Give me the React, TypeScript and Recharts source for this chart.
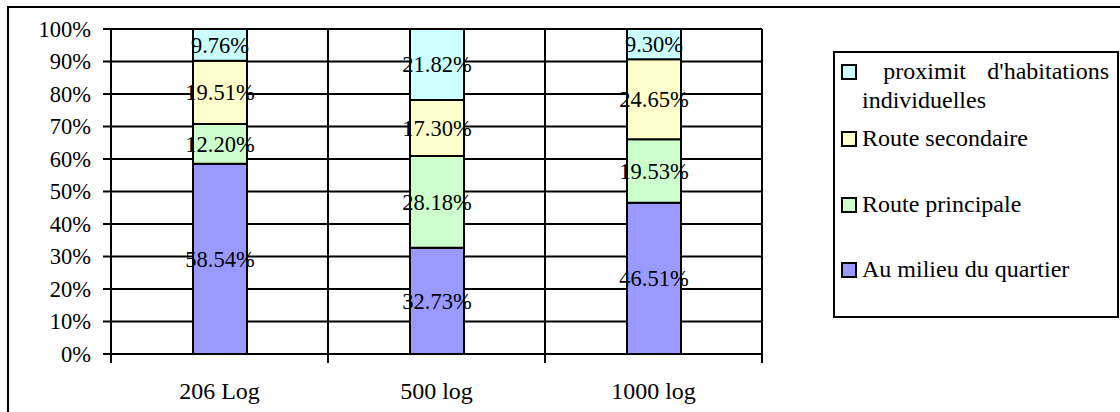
import React from "react";
import {
  BarChart,
  Bar,
  XAxis,
  YAxis,
  CartesianGrid,
  LabelList,
} from "recharts";

// Data (percent of each group)
const CATEGORIES = ["206 Log", "500 log", "1000 log"];
const AU_MILIEU = [58.54, 32.73, 46.51];
const ROUTE_PRINCIPALE = [12.2, 28.18, 19.53];
const ROUTE_SECONDAIRE = [19.51, 17.3, 24.65];
const PROXIMITE = [9.76, 21.82, 9.3];
const Y_TICKS = [0, 10, 20, 30, 40, 50, 60, 70, 80, 90, 100];

// Series, bottom of the stack first
const SERIES = [
  { key: "au", name: "Au milieu du quartier", values: AU_MILIEU },
  { key: "principale", name: "Route principale", values: ROUTE_PRINCIPALE },
  { key: "secondaire", name: "Route secondaire", values: ROUTE_SECONDAIRE },
  { key: "proximite", name: " proximit d'habitations individuelles", values: PROXIMITE },
];

const COLORS: Record<string, string> = {
  au: "#9999FF",
  principale: "#CCFFCC",
  secondaire: "#FFFFCC",
  proximite: "#CCFFFF",
};

const SERIF = '"Liberation Serif", Tinos, "Times New Roman", "DejaVu Serif", serif';
const X_TICK_SIZE = 8;
const X_TICK_MARGIN = 2;

const chartData = CATEGORIES.map((name, i) => {
  const row: Record<string, string | number> = { name };
  SERIES.forEach((s) => (row[s.key] = s.values[i]));
  return row;
});

const pct = (v: any) => `${Number(v).toFixed(2)}%`;

// category label + tick marks on the band boundaries (Excel style)
function CategoryTick(props: any) {
  const { x, y, index, payload, width } = props;
  const axisY = y - X_TICK_SIZE - X_TICK_MARGIN;
  const band = payload && payload.offset ? payload.offset * 2 : width / CATEGORIES.length;
  const left = x - band / 2;
  return (
    <g>
      <line x1={left} x2={left} y1={axisY} y2={axisY + 9} stroke="#000" strokeWidth={2} />
      {index === CATEGORIES.length - 1 && (
        <line x1={left + band} x2={left + band} y1={axisY} y2={axisY + 9} stroke="#000" strokeWidth={2} />
      )}
      <text x={x} y={axisY + 45} textAnchor="middle" fill="#000" style={{ fontSize: 24, fontFamily: SERIF }}>
        {payload.value}
      </text>
    </g>
  );
}

function LegendBox() {
  // legend lists the top of the stack first
  const items = [...SERIES].reverse();
  const gaps = [4, 9, 37, 36];
  return (
    <div
      style={{
        position: "absolute",
        left: 833,
        top: 51,
        width: 286,
        height: 267,
        boxSizing: "border-box",
        border: "2px solid #000",
        background: "#fff",
        fontFamily: SERIF,
        fontSize: 24,
        lineHeight: "29px",
        color: "#000",
      }}
    >
      {items.map((s, i) => (
        <div key={s.key} style={{ display: "flex", alignItems: "flex-start", marginTop: gaps[i], paddingLeft: 6 }}>
          <span
            style={{
              display: "inline-block",
              width: 16,
              height: 16,
              marginTop: 7,
              boxSizing: "border-box",
              border: "2px solid #000",
              background: COLORS[s.key],
              flex: "none",
            }}
          />
          {s.key === "proximite" ? (
            <div style={{ marginLeft: 5, width: 247 }}>
              <div style={{ display: "flex", justifyContent: "space-between" }}>
                <span />
                <span>proximit</span>
                <span>d'habitations</span>
              </div>
              <div>individuelles</div>
            </div>
          ) : (
            <span style={{ marginLeft: 5, whiteSpace: "nowrap" }}>{s.name}</span>
          )}
        </div>
      ))}
    </div>
  );
}

export default function App() {
  return (
    <div
      style={{
        position: "absolute",
        left: 0,
        top: 0,
        width: 1120,
        height: 412,
        overflow: "hidden",
        background: "#fff",
        fontFamily: SERIF,
      }}
    >
      {/* outer chart frame (right and bottom edges fall outside the picture) */}
      <div
        style={{
          position: "absolute",
          left: 7,
          top: 6,
          width: 1140,
          height: 440,
          border: "2px solid #000",
        }}
      />
      <div style={{ position: "absolute", left: 0, top: 0 }}>
        <BarChart
          width={1120}
          height={412}
          data={chartData}
          stackOffset="expand"
          margin={{ top: 29, right: 358, left: 0, bottom: 0 }}
          style={{ fontFamily: SERIF }}
        >
          <CartesianGrid
            stroke="#000"
            strokeWidth={2}
            verticalCoordinatesGenerator={({ offset }: any) => {
              const n = CATEGORIES.length;
              const pts = CATEGORIES.map((_, i) => offset.left + (i * offset.width) / n);
              return [...pts, offset.left + offset.width];
            }}
          />
          <XAxis
            dataKey="name"
            height={58}
            interval={0}
            tickLine={false}
            tickSize={X_TICK_SIZE}
            tickMargin={X_TICK_MARGIN}
            axisLine={{ stroke: "#000", strokeWidth: 2 }}
            tick={<CategoryTick />}
          />
          <YAxis
            width={111}
            domain={[0, 1]}
            ticks={Y_TICKS.map((t) => t / 100)}
            tickFormatter={(v: number) => `${Math.round(v * 100)}%`}
            tickSize={8}
            tickMargin={12}
            axisLine={{ stroke: "#000", strokeWidth: 2 }}
            tickLine={{ stroke: "#000", strokeWidth: 2 }}
            tick={{ fill: "#000", fontSize: 22.5, style: { fontFamily: SERIF } }}
          />
          {SERIES.map((s) => (
            <Bar
              key={s.key}
              dataKey={s.key}
              name={s.name}
              stackId="a"
              barSize={54}
              fill={COLORS[s.key]}
              stroke="#000"
              strokeWidth={2}
              isAnimationActive={false}
            >
              <LabelList
                dataKey={s.key}
                position="center"
                formatter={pct}
                fill="#000"
                fontSize={22.5}
                style={{ fontFamily: SERIF }}
              />
            </Bar>
          ))}
        </BarChart>
      </div>
      <LegendBox />
    </div>
  );
}
